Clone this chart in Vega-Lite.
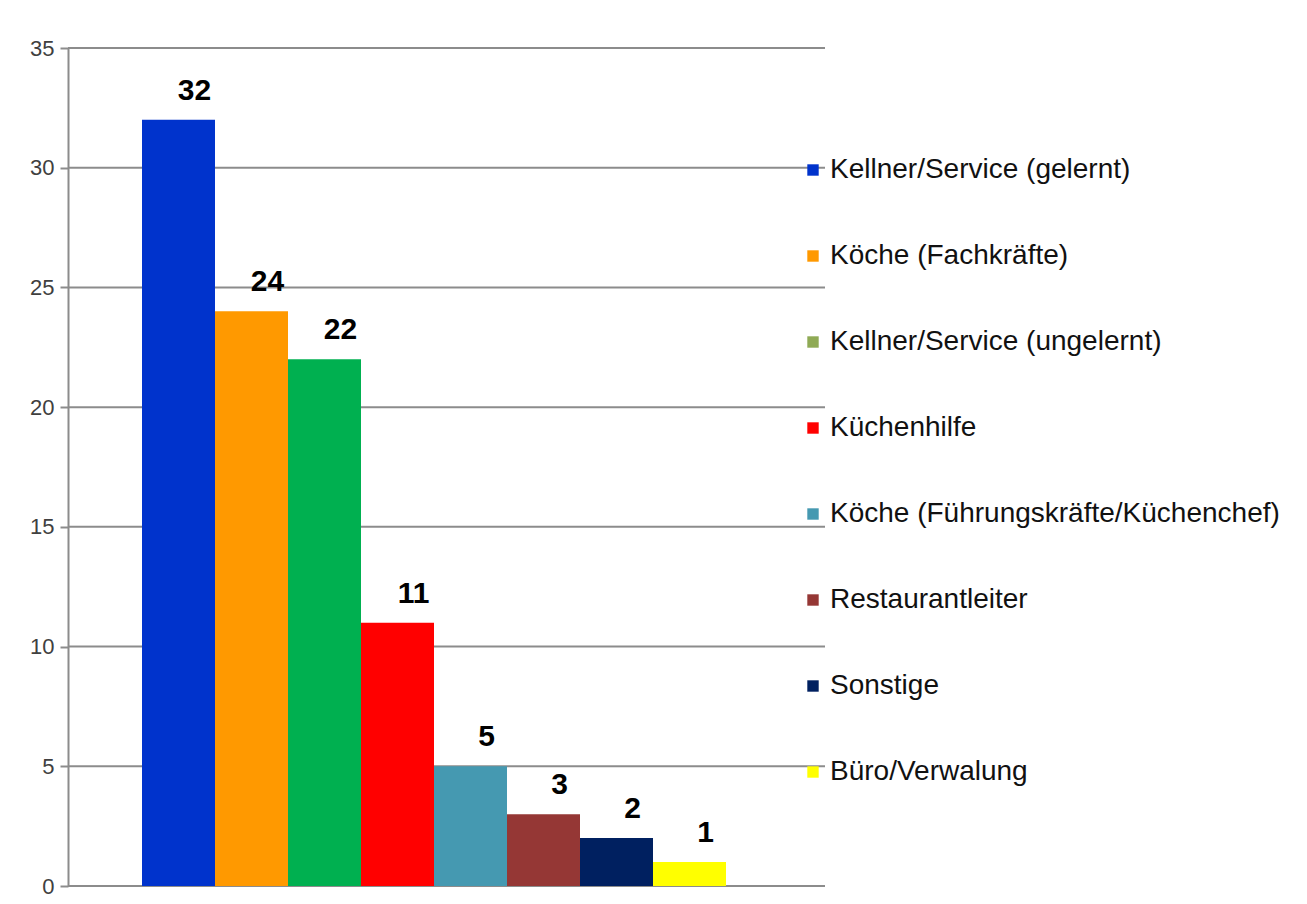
{
  "$schema": "https://vega.github.io/schema/vega-lite/v6.json",
  "autosize": "none",
  "width": 757,
  "height": 838,
  "padding": {"left": 68, "top": 48, "right": 482, "bottom": 18},
  "background": "white",
  "config": {
    "view": {"stroke": null},
    "font": "Liberation Sans"
  },
  "datasets": {
    "gitter": [{"v": 0}, {"v": 5}, {"v": 10}, {"v": 15}, {"v": 20}, {"v": 25}, {"v": 30}, {"v": 35}]
  },
  "data": {
    "values": [
      {"Beruf": "Kellner/Service (gelernt)", "Anzahl": 32},
      {"Beruf": "Köche (Fachkräfte)", "Anzahl": 24},
      {"Beruf": "Kellner/Service (ungelernt)", "Anzahl": 22},
      {"Beruf": "Küchenhilfe", "Anzahl": 11},
      {"Beruf": "Köche (Führungskräfte/Küchenchef)", "Anzahl": 5},
      {"Beruf": "Restaurantleiter", "Anzahl": 3},
      {"Beruf": "Sonstige", "Anzahl": 2},
      {"Beruf": "Büro/Verwalung", "Anzahl": 1}
    ]
  },
  "layer": [
    {
      "data": {"name": "gitter"},
      "mark": {"type": "rule", "color": "#8c8c8c", "strokeWidth": 2},
      "encoding": {
        "y": {
          "field": "v",
          "type": "quantitative",
          "scale": {"domain": [0, 35]},
          "axis": {
            "values": [0, 5, 10, 15, 20, 25, 30, 35],
            "title": null,
            "grid": false,
            "labelFontSize": 22,
            "labelColor": "#404040",
            "labelPadding": 6,
            "tickColor": "#8c8c8c",
            "tickWidth": 2,
            "tickSize": 8,
            "domainColor": "#8c8c8c",
            "domainWidth": 2
          }
        }
      }
    },
    {
      "mark": {"type": "bar"},
      "encoding": {
        "x": {
          "field": "Beruf",
          "type": "nominal",
          "sort": null,
          "scale": {"paddingInner": 0, "paddingOuter": 0, "range": [74, 658]},
          "axis": null
        },
        "y": {"field": "Anzahl", "type": "quantitative"},
        "color": {
          "field": "Beruf",
          "type": "nominal",
          "sort": null,
          "scale": {"range": ["#0033cc", "#ff9900", "#00b050", "#ff0000", "#4599b1", "#953735", "#002060", "#ffff00"]},
          "legend": null
        }
      }
    },
    {
      "mark": {"type": "square", "opacity": 0},
      "encoding": {
        "x": {"field": "Beruf", "type": "nominal", "sort": null},
        "y": {"field": "Anzahl", "type": "quantitative"},
        "color": {
          "field": "Beruf",
          "type": "nominal",
          "sort": null,
          "scale": {"range": ["#0033cc", "#ff9900", "#8faa55", "#ff0000", "#4599b1", "#953735", "#002060", "#ffff00"]},
          "legend": {
            "title": null,
            "orient": "none",
            "legendX": 731,
            "legendY": 108,
            "symbolType": "square",
            "symbolSize": 130,
            "symbolStrokeWidth": 0,
            "symbolOpacity": 1,
            "labelFontSize": 28,
            "labelColor": "#111111",
            "labelOffset": 3,
            "labelLimit": 600,
            "rowPadding": 58
          }
        }
      }
    },
    {
      "mark": {"type": "text", "fontSize": 30, "fontWeight": "bold", "color": "#000000", "dy": -20, "dx": 16, "baseline": "alphabetic"},
      "encoding": {
        "x": {"field": "Beruf", "type": "nominal", "sort": null},
        "y": {"field": "Anzahl", "type": "quantitative"},
        "text": {"field": "Anzahl", "type": "quantitative"}
      }
    }
  ],
  "resolve": {"scale": {"color": "independent"}}
}
